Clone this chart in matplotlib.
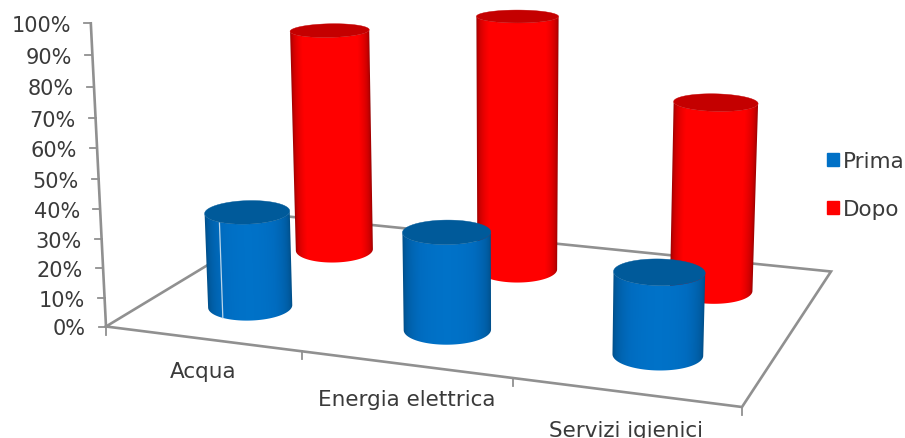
import numpy as np
import matplotlib
matplotlib.use("Agg")
import matplotlib.pyplot as plt
from matplotlib.colors import LinearSegmentedColormap
from matplotlib.patches import Patch, Polygon

# Chart data (percent)
categories = ["Acqua", "Energia elettrica", "Servizi igienici"]
prima = [33, 33, 27]
dopo = [82, 91, 66]
value_ticks = list(range(0, 101, 10))
series_names = ["Prima", "Dopo"]

# Floor corners in pixels: front-left, front-right, back-right, back-left
P00, P10, P11, P01 = (106, 327.5), (742, 408), (831, 272.5), (288, 217.5)
VANISH = np.array([509.0, 8377.0])  # vertical vanishing point
BAR_U = [0.1667, 0.503, 0.836]      # cylinder centres along the floor
GRID = "#909090"
TEXT = "#3a3a3a"
FS = 15.5


def floor_matrix():
    """Homography from the unit square to the floor quadrilateral."""
    x0, y0 = P00; x1, y1 = P10; x2, y2 = P11; x3, y3 = P01
    dx1, dx2, sx = x1 - x2, x3 - x2, x0 - x1 + x2 - x3
    dy1, dy2, sy = y1 - y2, y3 - y2, y0 - y1 + y2 - y3
    den = dx1 * dy2 - dx2 * dy1
    g = (sx * dy2 - dx2 * sy) / den
    h = (dx1 * sy - sx * dy1) / den
    return np.array([[x1 - x0 + g * x1, x3 - x0 + h * x3, x0],
                     [y1 - y0 + g * y1, y3 - y0 + h * y3, y0],
                     [g, h, 1.0]])


H = floor_matrix()


def project(u, v, pct=0.0):
    """Map floor position (u, v) and a height in percent to pixels."""
    px = H @ np.array([u, v, 1.0])
    w = px[2]
    base = px[:2] / w
    z = pct / 100.0
    rise = 288.0 * z / (1 - 0.05 * z) / w
    t = rise / (VANISH[1] - base[1])
    return base + (base - VANISH) * t, w, 1 + t


def ring(centre, w, grow, thetas):
    """Points of a horizontal circle seen in perspective."""
    radial = centre - VANISH
    radial = radial / np.hypot(*radial)
    e1 = np.array([-radial[1], radial[0]])
    if e1[0] < 0:
        e1 = -e1
    e2 = -radial
    if e2[1] < 0:
        e2 = -e2
    a = 43.3 / w * grow
    b = 6.5 + 0.027 * (centre[1] - 20)
    return (centre[:, None] + a * np.cos(thetas) * e1[:, None]
            + b * np.sin(thetas) * e2[:, None])


def cylinder(ax, u, v, pct, cmap, cap, order, seam=None):
    bottom, w, _ = project(u, v)
    top, _, grow = project(u, v, pct)
    th = np.linspace(np.pi, 0, 121)
    lower = ring(bottom, w, 1.0, th)
    upper = ring(top, w, grow, th)

    # Shade the body row by row from the left and right silhouette edges
    x0, x1 = np.floor(min(lower[0].min(), upper[0].min())), np.ceil(max(lower[0].max(), upper[0].max()))
    y0, y1 = np.floor(upper[1].min()), np.ceil(lower[1].max())
    xs = np.arange(x0, x1) + 0.5
    ys = np.arange(y0, y1) + 0.5
    gx, gy = np.meshgrid(xs, ys)
    frac = np.clip((gy - upper[1, 0]) / (lower[1, 0] - upper[1, 0]), 0, 1)
    left = upper[0, 0] + (lower[0, 0] - upper[0, 0]) * frac
    right = upper[0, -1] + (lower[0, -1] - upper[0, -1]) * frac
    across = np.clip((gx - left) / (right - left), 0, 1)
    shade = np.sqrt(np.clip(1 - (2 * across - 1) ** 2, 0, 1))
    im = ax.imshow(cmap(shade), extent=(x0, x1, y1, y0), origin="upper", aspect="auto",
                   interpolation="nearest", zorder=order)
    body = Polygon(np.hstack([lower, upper[:, ::-1]]).T, closed=True, transform=ax.transData)
    im.set_clip_path(body)

    outline = ring(top, w, grow, np.linspace(0, 2 * np.pi, 121))
    ax.add_patch(Polygon(outline.T, closed=True, fc=cap, ec=cap, lw=0.3, zorder=order + 0.1))
    if seam is not None:
        s = np.array([seam])
        a = ring(bottom, w, 1.0, s)[:, 0]
        b = ring(top, w, grow, s)[:, 0]
        ax.plot([a[0], b[0]], [a[1], b[1]], color="#bcd6ea", lw=0.9, zorder=order + 0.05)


blue_map = LinearSegmentedColormap.from_list(
    "blue", [(0, "#004a80"), (0.45, "#005ea6"), (0.8, "#006cc0"), (1, "#0072c8")])
red_map = LinearSegmentedColormap.from_list(
    "red", [(0, "#8c0000"), (0.4, "#d00000"), (0.72, "#ff0000"), (1, "#ff0000")])

fig = plt.figure(figsize=(9.05, 4.39), dpi=100)
ax = fig.add_axes([0, 0, 1, 1])
ax.axis("off")

# Floor outline
corners = np.array([P00, P10, P11, P01, P00])
ax.plot(corners[:, 0], corners[:, 1], color=GRID, lw=1.9, zorder=1, solid_joinstyle="miter")

# Value axis with its ticks and labels
axis_pts = np.array([project(0, 0, t)[0] for t in value_ticks])
ax.plot(axis_pts[:, 0], axis_pts[:, 1], color=GRID, lw=1.9, zorder=1)
for tick, (x, y) in zip(value_ticks, axis_pts):
    ax.plot([x - 7, x], [y, y], color=GRID, lw=1.3, zorder=1)
    ax.text(x - 20, y + 2, f"{tick}%", ha="right", va="center", fontsize=15, color=TEXT)

# Category ticks along the front edge, with labels between them
n = len(categories)
for i in range(n + 1):
    x, y = project(i / n, 0)[0]
    ax.plot([x, x], [y, y + 8], color=GRID, lw=1.3, zorder=1)
for i, name in enumerate(categories):
    u = (i + 0.5) / n
    x, y = project(u, 0)[0]
    ax.text(x + 1, y + 37 + 8 * u, name, ha="center", va="baseline", fontsize=FS, color=TEXT)

# Cylinders: back row first so the front row covers it
for i, val in enumerate(dopo):
    cylinder(ax, BAR_U[i], 0.75, val, red_map, "#c40000", 3 + i * 0.2)
for i, val in enumerate(prima):
    cylinder(ax, BAR_U[i], 0.25, val, blue_map, "#005a9a", 5 + i * 0.2,
             seam=2.29 if i == 0 else None)

# Pixel-sized drawing area; imshow would otherwise change the limits
ax.set_xlim(0, 905)
ax.set_ylim(439, 0)

# Legend
handles = [Patch(color="#0070c6", label=series_names[0]),
           Patch(color="#ff0000", label=series_names[1])]
ax.legend(handles=handles, loc="upper left", bbox_to_anchor=(827, 152),
          bbox_transform=ax.transData, frameon=False, fontsize=FS, labelcolor=TEXT,
          borderpad=0, borderaxespad=0, handlelength=0.56, handleheight=0.56,
          handletextpad=0.2, labelspacing=1.3)

fig.savefig("out.png", dpi=100, facecolor="white")
